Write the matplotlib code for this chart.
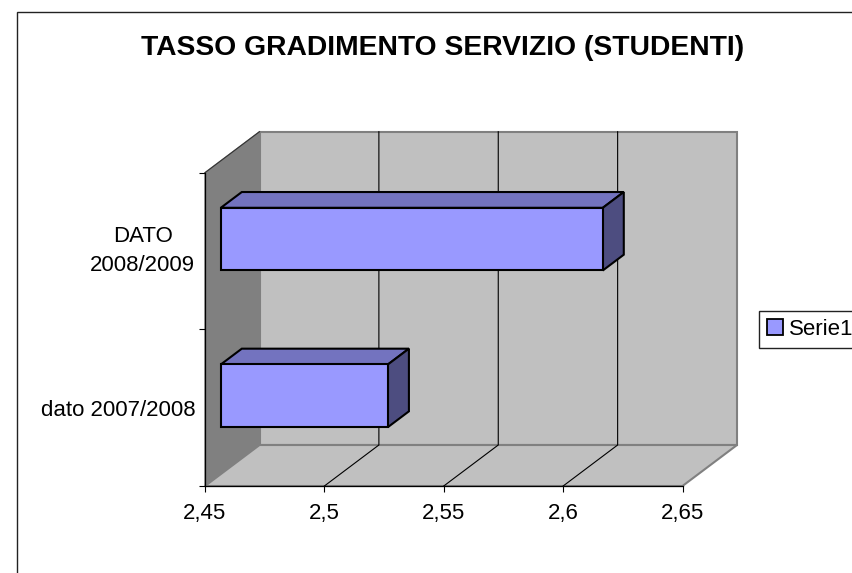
import matplotlib
matplotlib.use("Agg")
import matplotlib.pyplot as plt
from matplotlib.patches import Polygon, Patch, Rectangle

plt.rcParams['font.family'] = ['Liberation Sans', 'DejaVu Sans']

title = "TASSO GRADIMENTO SERVIZIO (STUDENTI)"
categories = ["dato 2007/2008", "DATO\n2008/2009"]
values = [2.52, 2.61]
series_name = "Serie1"
x_ticks = [2.45, 2.5, 2.55, 2.6, 2.65]
x_labels = ["2,45", "2,5", "2,55", "2,6", "2,65"]

W, H = 852, 573
# depth of the fake 3d box, in data units
depth_x = 0.02283
depth_y = 0.2617
bar_height = 0.4
bar_d0 = 0.29
bar_d1 = 0.675

fig = plt.figure(figsize=(W / 100, H / 100), dpi=100)
fig.patch.set_facecolor("white")
# chart frame runs off the right and bottom of the page
fig.add_artist(Rectangle((17 / W, 0 - 0.05), 1, 1 - 11.5 / H + 0.05, transform=fig.transFigure,
                         fill=False, edgecolor="#222222", linewidth=1.0))

ax = fig.add_axes([205 / W, 1 - 486 / H, 477.5 / W, 313.3 / H])
ax.set_xlim(x_ticks[0], x_ticks[-1])
ax.set_ylim(0, len(categories))
ax.patch.set_visible(False)
x0, x1 = ax.get_xlim()
y0, y1 = ax.get_ylim()


# project a point (value, category pos, depth 0..1) to the flat axes
def pt(x, y, d):
    return (x + d * depth_x, y + d * depth_y)


def face(points, color, edge, lw, z):
    ax.add_patch(Polygon([pt(*p) for p in points], closed=True, facecolor=color, edgecolor=edge,
                         linewidth=lw, clip_on=False, zorder=z, joinstyle="miter"))


# walls and floor
face([(x0, y0, 0), (x0, y0, 1), (x0, y1, 1), (x0, y1, 0)], "#808080", "#808080", 1.0, 1)
face([(x0, y0, 1), (x1, y0, 1), (x1, y1, 1), (x0, y1, 1)], "#C0C0C0", "#808080", 1.5, 1)
face([(x0, y0, 0), (x1, y0, 0), (x1, y0, 1), (x0, y0, 1)], "#C0C0C0", "#808080", 1.5, 1.5)

# top edge of side wall
a, b = pt(x0, y1, 0), pt(x0, y1, 1)
ax.plot([a[0], b[0]], [a[1], b[1]], color="#333333", lw=0.8, clip_on=False, zorder=2)

# gridlines on back wall and floor
for t in x_ticks[1:-1]:
    a, b, c = pt(t, y0, 0), pt(t, y0, 1), pt(t, y1, 1)
    ax.plot([a[0], b[0], c[0]], [a[1], b[1], c[1]], color="black", lw=0.8, clip_on=False, zorder=2)

# bars
for i, v in enumerate(values):
    lo = i + 0.5 - bar_height / 2
    hi = i + 0.5 + bar_height / 2
    face([(x0, hi, bar_d0), (v, hi, bar_d0), (v, hi, bar_d1), (x0, hi, bar_d1)], "#7373BF", "black", 1.5, 3)
    face([(v, lo, bar_d0), (v, lo, bar_d1), (v, hi, bar_d1), (v, hi, bar_d0)], "#4D4D80", "black", 1.5, 3)
    face([(x0, lo, bar_d0), (v, lo, bar_d0), (v, hi, bar_d0), (x0, hi, bar_d0)], "#9999FF", "black", 1.5, 4)

for s in ["top", "right"]:
    ax.spines[s].set_visible(False)
for s in ["left", "bottom"]:
    ax.spines[s].set_linewidth(0.9)
    ax.spines[s].set_zorder(2.5)

ax.set_xticks(x_ticks)
ax.set_xticklabels(x_labels, fontsize=16.05)
ax.tick_params(axis="x", length=4.5, width=0.8, pad=7.8)
ax.set_yticks(range(len(categories) + 1))
ax.set_yticklabels([])
ax.set_yticks([i + 0.5 for i in range(len(categories))], minor=True)
ax.set_yticklabels(categories, minor=True, fontsize=16.05, ma="center", linespacing=1.54)
ax.tick_params(axis="y", which="major", length=4.5, width=0.8)
ax.tick_params(axis="y", which="minor", length=0, pad=7)
# the two line label centres on its whole block
ax.get_yticklabels(minor=True)[1].set_va("center")

fig.text(443 / W, 1 - 55 / H, title, fontsize=20.3, fontweight="bold", ha="center", va="baseline")

fig.legend(handles=[Patch(facecolor="#9999FF", edgecolor="black", linewidth=1.3, label=series_name)],
           loc="upper left", bbox_to_anchor=(759 / W, 1 - 311 / H), borderaxespad=0,
           fontsize=16.05, frameon=True, fancybox=False, framealpha=1, edgecolor="#222222",
           handlelength=0.72, handleheight=0.72, handletextpad=0.27, borderpad=0.36)

fig.savefig("out.png", dpi=100)
